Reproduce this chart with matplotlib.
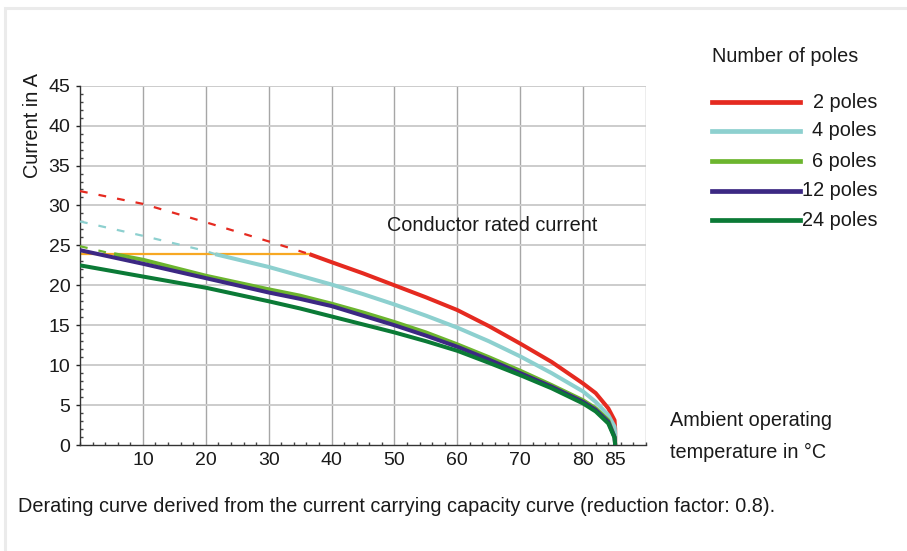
import matplotlib
matplotlib.use("Agg")
import matplotlib.pyplot as plt
from matplotlib.patches import Rectangle
from matplotlib.ticker import MultipleLocator

plt.rcParams['font.family'] = ['Liberation Sans', 'DejaVu Sans']

# ---- data ----
series_labels = ["2 poles", "4 poles", "6 poles", "12 poles", "24 poles"]
series_colors = ["#e52a20", "#8dd0cf", "#6cb52e", "#3c2883", "#0b7a36"]

# dashed parts (above conductor rated current)
red_dash_x = [0, 10, 20, 30, 36.5]
red_dash_y = [31.8, 30.2, 27.9, 25.5, 23.9]
teal_dash_x = [0, 10, 20, 21.5]
teal_dash_y = [28.0, 26.2, 24.3, 23.9]
green_dash_x = [0, 5.4]
green_dash_y = [24.9, 23.9]

# solid parts
red_x = [36.5, 40, 45, 50, 55, 60, 65, 70, 75, 80, 82, 84, 85, 85.1, 85.1]
red_y = [23.9, 22.9, 21.5, 20.0, 18.5, 16.9, 14.9, 12.7, 10.4, 7.7, 6.5, 4.6, 3.1, 2.0, 0]
teal_x = [21.5, 30, 35, 40, 45, 50, 55, 60, 65, 70, 75, 80, 82, 84, 85, 85.1, 85.1]
teal_y = [23.9, 22.3, 21.2, 20.1, 18.9, 17.6, 16.2, 14.7, 13.0, 11.1, 9.0, 6.7, 5.4, 3.75, 2.3, 1.5, 0]
green_x = [5.4, 10, 20, 30, 35, 40, 45, 50, 55, 60, 65, 70, 75, 80, 82, 84, 85, 85.1]
green_y = [23.9, 23.2, 21.2, 19.5, 18.7, 17.7, 16.6, 15.4, 14.1, 12.6, 11.0, 9.3, 7.5, 5.6, 4.6, 3.1, 1.0, 0]
purple_x = [0, 10, 20, 30, 35, 40, 45, 50, 55, 60, 65, 70, 75, 80, 82, 84, 85, 85.1]
purple_y = [24.4, 22.7, 20.9, 19.1, 18.3, 17.4, 16.2, 15.0, 13.7, 12.3, 10.7, 9.0, 7.3, 5.4, 4.4, 2.9, 1.0, 0]
dkgreen_x = [0, 10, 20, 30, 35, 40, 45, 50, 55, 60, 65, 70, 75, 80, 82, 84, 85, 85.1]
dkgreen_y = [22.5, 21.1, 19.7, 18.0, 17.1, 16.1, 15.1, 14.1, 13.0, 11.8, 10.3, 8.75, 7.1, 5.2, 4.2, 2.7, 0.9, 0]

rated_x = [0, 36.5]
rated_y = [23.9, 23.9]

x_ticks = [10, 20, 30, 40, 50, 60, 70, 80, 85]
x_grid = [10, 20, 30, 40, 50, 60, 70, 80, 90]
y_ticks = [0, 5, 10, 15, 20, 25, 30, 35, 40, 45]

# ---- figure ----
W, H = 907, 551
fig = plt.figure(figsize=(W / 100, H / 100), dpi=100)
fig.patch.set_facecolor("white")
fig.patches.append(Rectangle((5 / W, -0.1), 1.2, 1 - 8 / H + 0.1, transform=fig.transFigure,
                             facecolor="none", edgecolor="#ebebeb", linewidth=2.2))

ax = fig.add_axes([80 / W, 1 - 445 / H, (646 - 80) / W, (445 - 85.7) / H])
ax.set_xlim(0, 90)
ax.set_ylim(0, 45)

for s in ["top", "right"]:
    ax.spines[s].set_visible(False)
for s in ["left", "bottom"]:
    ax.spines[s].set_color("#333333")
    ax.spines[s].set_linewidth(1.0)

# grid
for gx in x_grid:
    ax.axvline(gx, color="#a6a6a6", lw=1.0, zorder=0)
for gy in y_ticks[1:]:
    ax.axhline(gy, color="#cccccc", lw=1.4, zorder=0)

ax.set_xticks(x_ticks)
ax.set_yticks(y_ticks)
ax.xaxis.set_minor_locator(MultipleLocator(2))
ax.yaxis.set_minor_locator(MultipleLocator(1))
ax.tick_params(axis="both", which="major", labelsize=14, colors="#222222",
               length=3, width=1, direction="out")
ax.tick_params(axis="x", which="major", length=0, pad=5)
ax.tick_params(axis="y", which="major", pad=4)
ax.tick_params(axis="both", which="minor", length=2, width=1, direction="in", color="#444444")
for lab in ax.get_xticklabels() + ax.get_yticklabels():
    lab.set_color("#1a1a1a")

# rated current line
ax.plot(rated_x, rated_y, color="#f7a823", lw=1.6, zorder=2)

dash_kw = dict(lw=1.6, linestyle=(0, (3.5, 5)), zorder=3)
ax.plot(red_dash_x, red_dash_y, color=series_colors[0], **dash_kw)
ax.plot(teal_dash_x, teal_dash_y, color=series_colors[1], **dash_kw)
ax.plot(green_dash_x, green_dash_y, color=series_colors[2], **dash_kw)

solid = [(red_x, red_y), (teal_x, teal_y), (green_x, green_y),
         (purple_x, purple_y), (dkgreen_x, dkgreen_y)]
for (xs, ys), c in zip(solid, series_colors):
    ax.plot(xs, ys, color=c, lw=2.9, solid_capstyle="butt", solid_joinstyle="round", zorder=4)

# texts
tc = "#1a1a1a"
fs = 14.3
fig.text(33 / W, 1 - 125 / H, "Current in A", rotation=90, ha="center", va="center",
         fontsize=fs, color=tc)
fig.text(492 / W, 1 - 226 / H, "Conductor rated current", ha="center", va="center",
         fontsize=fs, color=tc)
fig.text(670 / W, 1 - 421 / H, "Ambient operating", ha="left", va="center",
         fontsize=fs, color=tc)
fig.text(670 / W, 1 - 452 / H, "temperature in °C", ha="left", va="center",
         fontsize=fs, color=tc)
fig.text(18 / W, 1 - 506 / H, "Derating curve derived from the current carrying capacity curve (reduction factor: 0.8).",
         ha="left", va="center", fontsize=fs, color=tc)

# legend (manual)
fig.text(712 / W, 1 - 57 / H, "Number of poles", ha="left", va="center", fontsize=fs, color=tc)
leg_y = [102, 131, 161, 191, 220]
for lab, c, py in zip(series_labels, series_colors, leg_y):
    fig.add_artist(plt.Line2D([712 / W, 800 / W], [1 - py / H, 1 - py / H], color=c,
                              lw=3.4, transform=fig.transFigure))
    fig.text(877 / W, 1 - py / H, lab, ha="right", va="center", fontsize=fs, color=tc)

fig.savefig("out.png", dpi=100, facecolor="white")
